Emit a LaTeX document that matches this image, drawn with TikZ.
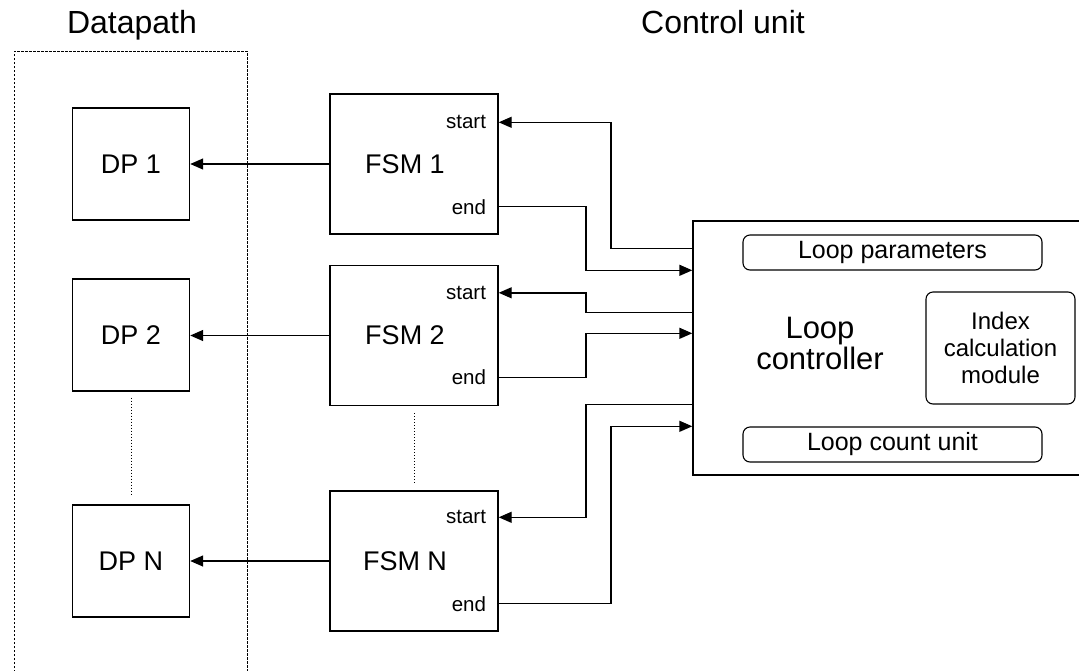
\documentclass[tikz,border=0pt]{standalone}
\usepackage{fontspec}
\setmainfont{Liberation Sans}
\usetikzlibrary{arrows.meta,positioning}

\begin{document}
\begin{tikzpicture}[x=1pt, y=-1pt, line width=1.4pt,
  every node/.style={font=\fontsize{27}{29}\selectfont},
  box/.style={draw, inner sep=0pt},
  dpbox/.style={box, minimum width=117pt, minimum height=112pt},
  fsmbox/.style={box, minimum width=168pt, minimum height=140pt},
  sub/.style={draw, rounded corners=7pt, inner sep=0pt, line width=1.1pt},
  sig/.style={font=\fontsize{20.5}{22}\selectfont, inner sep=0pt, anchor=east},
  link/.style={-{Triangle[length=13pt,width=11pt]}}]
  \clip (0,0) rectangle (1079,670);
  % titles
  \node[anchor=base, font=\fontsize{32}{34}\selectfont] (dptitle) at (132,33) {Datapath};
  \node[anchor=base, font=\fontsize{32}{34}\selectfont] (cutitle) at (723,33) {Control unit};
  \draw[line width=1pt, dash pattern=on 2.5pt off 1.5pt] (14,672) |- (247,51) -- (247,672);
  % datapath blocks
  \node[dpbox] (dp1) at (131,164) {DP 1};
  \node[dpbox] (dp2) at (131,335) {DP 2};
  \node[dpbox] (dpn) at (131,561) {DP N};
  \draw[dotted, line width=1pt] ([yshift=-6pt]dp2.south) -- ([yshift=9pt]dpn.north);
  % state machines
  \node[fsmbox] (fsm1) at (414,164) {FSM 1\hspace*{18pt}};
  \node[fsmbox] (fsm2) at (414,335.5) {FSM 2\hspace*{18pt}};
  \node[fsmbox] (fsmn) at (414,561) {FSM N\hspace*{18pt}};
  \draw[dotted, line width=1pt] ([yshift=-7pt]fsm2.south) -- ([yshift=8pt]fsmn.north);
  \node[sig] (s1) at ([xshift=-12pt,yshift=-29pt]fsm1.north east) {start};
  \node[sig] (e1) at ([xshift=-12pt,yshift=28pt]fsm1.south east) {end};
  \node[sig] (s2) at ([xshift=-12pt,yshift=-28pt]fsm2.north east) {start};
  \node[sig] (e2) at ([xshift=-12pt,yshift=29pt]fsm2.south east) {end};
  \node[sig] (sn) at ([xshift=-12pt,yshift=-27pt]fsmn.north east) {start};
  \node[sig] (en) at ([xshift=-12pt,yshift=28pt]fsmn.south east) {end};
  % loop controller
  \node[box, minimum width=392pt, minimum height=254pt] (lc) at (889,348) {};
  \node[align=center, font=\fontsize{31}{31}\selectfont] (lctext) at (820,343) {Loop\\controller};
  \node[sub, minimum width=299pt, minimum height=35pt, font=\fontsize{25}{27}\selectfont] (lpar) at (892.5,252.5) {Loop parameters};
  \node[sub, minimum width=149pt, minimum height=112pt, align=center, font=\fontsize{24}{27}\selectfont] (idx) at (1000.5,348) {Index\\calculation\\module};
  \node[sub, minimum width=299pt, minimum height=35pt, font=\fontsize{25}{27}\selectfont] (lcnt) at (892.5,444.5) {Loop count unit};
  % bus columns and controller ports
  \coordinate (busa) at (586,0);
  \coordinate (busb) at (611,0);
  \coordinate (o1) at ([yshift=-28pt]lc.north west);
  \coordinate (i1) at ([yshift=-50pt]lc.north west);
  \coordinate (o2) at ([yshift=-92pt]lc.north west);
  \coordinate (i2) at ([yshift=-113pt]lc.north west);
  \coordinate (on) at ([yshift=-184pt]lc.north west);
  \coordinate (in) at ([yshift=-206pt]lc.north west);
  % connectors
  \draw[link] (fsm1.west) -- (fsm1.west -| dp1.east);
  \draw[link] (fsm2.west) -- (fsm2.west -| dp2.east);
  \draw[link] (fsmn.west) -- (fsmn.west -| dpn.east);
  \draw[link] (o1) -| (busb |- s1) -- (s1 -| fsm1.east);
  \draw[link] (e1 -| fsm1.east) -| (busa |- i1) -- (i1);
  \draw[link] (o2) -| (busa |- s2) -- (s2 -| fsm2.east);
  \draw[link] (e2 -| fsm2.east) -| (busa |- i2) -- (i2);
  \draw[link] (on) -| (busa |- sn) -- (sn -| fsmn.east);
  \draw[link] (en -| fsmn.east) -| (busb |- in) -- (in);
\end{tikzpicture}
\end{document}
